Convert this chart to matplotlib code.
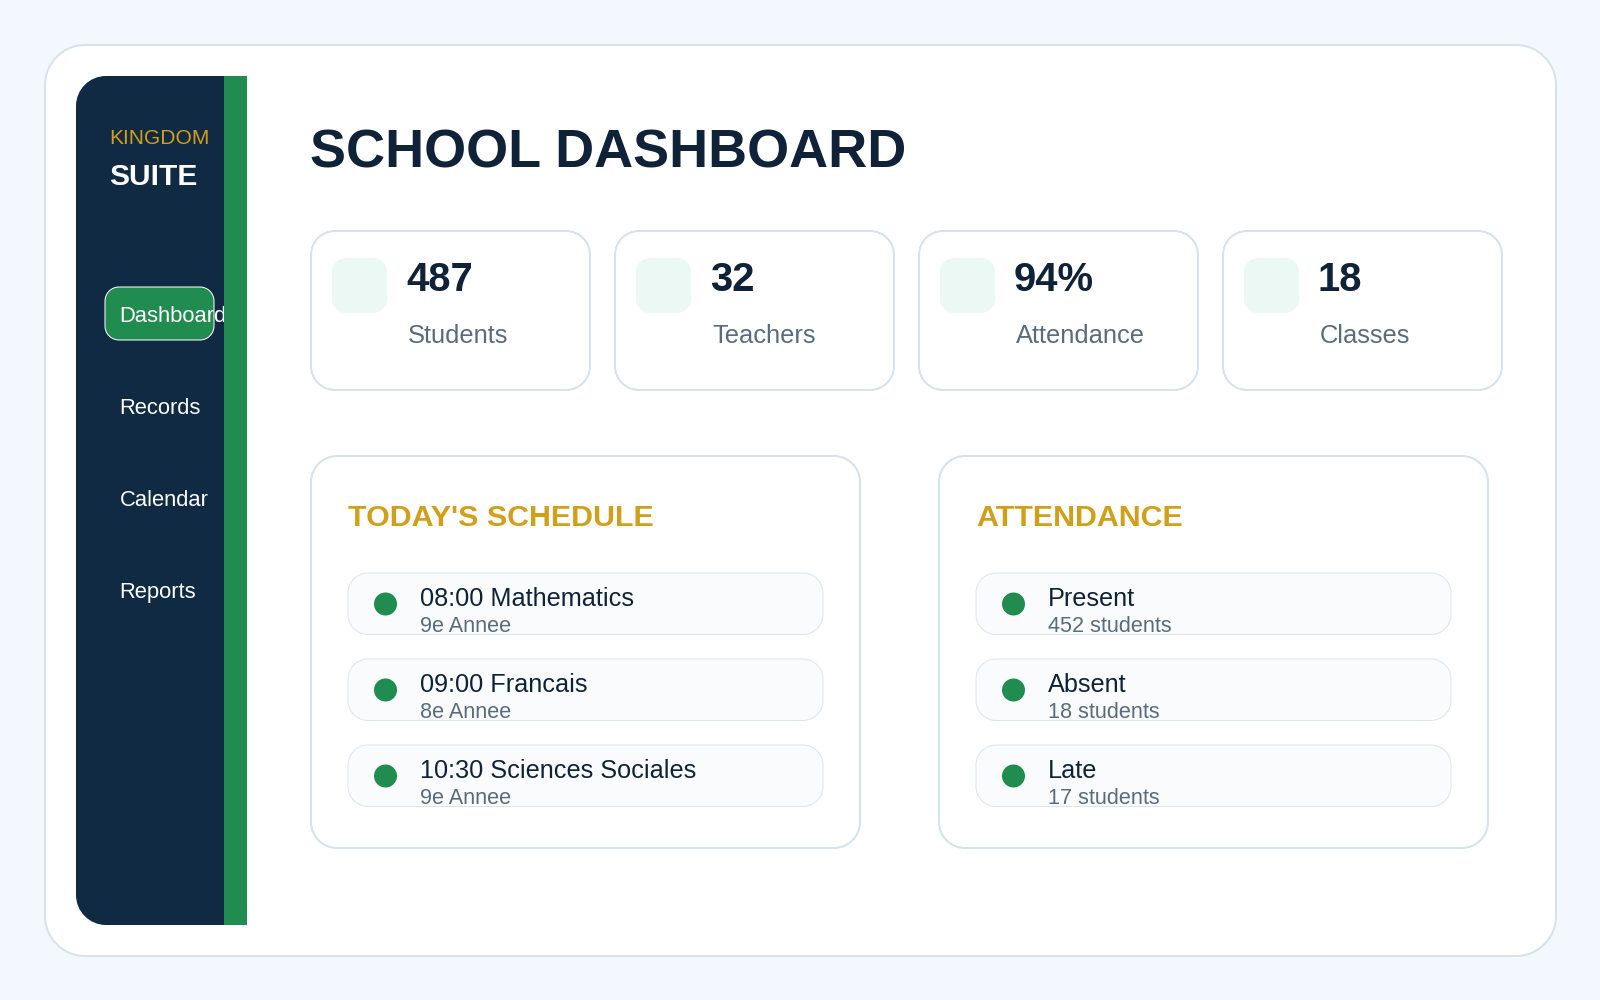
import matplotlib
matplotlib.use("Agg")
import matplotlib.pyplot as plt
from matplotlib.patches import PathPatch, Rectangle, Circle
from matplotlib.path import Path

plt.rcParams['font.family'] = ['Liberation Sans', 'DejaVu Sans']

# ---- content ----
nav_items = ["Dashboard", "Records", "Calendar", "Reports"]
stat_values = ["487", "32", "94%", "18"]
stat_labels = ["Students", "Teachers", "Attendance", "Classes"]
schedule_titles = ["08:00 Mathematics", "09:00 Francais", "10:30 Sciences Sociales"]
schedule_subs = ["9e Annee", "8e Annee", "9e Annee"]
attendance_titles = ["Present", "Absent", "Late"]
attendance_subs = ["452 students", "18 students", "17 students"]

NAVY = "#102a43"; INK = "#0f2238"; GREEN = "#218c4f"; GOLD = "#d19f1a"; GRAY = "#5b6b7e"
BORDER = "#d6e2ec"; BG = "#f3f8fe"; ICON = "#ecf8f3"; ROW = "#f9fbfd"; ROWB = "#dde6ed"

fig = plt.figure(figsize=(16, 10), dpi=100, facecolor=BG)
ax = fig.add_axes([0, 0, 1, 1])
ax.set_xlim(0, 1600); ax.set_ylim(1000, 0); ax.axis("off")

def px(s):
    return s * 0.72

def rbox(x0, y0, x1, y1, r, fc, ec="none", lw=2, z=1):
    k = r * (1 - 0.5523)
    M, L, C, Z = Path.MOVETO, Path.LINETO, Path.CURVE4, Path.CLOSEPOLY
    verts = [(x0 + r, y0), (x1 - r, y0), (x1 - k, y0), (x1, y0 + k), (x1, y0 + r),
             (x1, y1 - r), (x1, y1 - k), (x1 - k, y1), (x1 - r, y1),
             (x0 + r, y1), (x0 + k, y1), (x0, y1 - k), (x0, y1 - r),
             (x0, y0 + r), (x0, y0 + k), (x0 + k, y0), (x0 + r, y0), (x0 + r, y0)]
    codes = [M, L, C, C, C, L, C, C, C, L, C, C, C, L, C, C, C, Z]
    p = PathPatch(Path(verts, codes), fc=fc, ec=ec, lw=lw * 0.72, zorder=z)
    ax.add_patch(p)
    return p

def txt(x, y, s, size, color, weight="normal", z=5):
    return ax.text(x, y, s, fontsize=px(size), color=color, fontweight=weight,
                   va="baseline", ha="left", zorder=z)

# outer card
rbox(45, 45, 1556, 956, 40, "white", BORDER, 2)

# sidebar
rbox(76, 76, 224, 925, 30, NAVY, z=2)
ax.add_patch(Rectangle((130, 76), 94, 849, fc=NAVY, ec="none", zorder=2))
ax.add_patch(Rectangle((224, 76), 23, 849, fc=GREEN, ec="none", zorder=6))
txt(109, 144, "KINGDOM", 21, GOLD)
txt(109, 185, "SUITE", 30, "white", "bold")
rbox(105, 287, 214, 340, 14, GREEN, "white", 1, z=3)
nav_base = [322, 414, 506, 598]
for s, y in zip(nav_items, nav_base):
    txt(119.5, y, s, 22, "white")

# title
txt(310, 168, "SCHOOL DASHBOARD", 54, INK, "bold")

# stat cards
for i, (v, l) in enumerate(zip(stat_values, stat_labels)):
    x = 311 + 304 * i
    rbox(x, 231, x + 279, 390, 24, "white", BORDER, 2)
    rbox(x + 21, 258, x + 76, 313, 14, ICON)
    txt(x + 95, 291, v, 40, INK, "bold")
    txt(x + 97, 343, l, 25.5, GRAY)

# panels
def panel(x0, title, titles, subs):
    rbox(x0, 456, x0 + 549, 848, 26, "white", BORDER, 2)
    txt(x0 + 37, 526, title, 30.4, GOLD, "bold")
    for i, (a, b) in enumerate(zip(titles, subs)):
        y = 573 + 86 * i
        rbox(x0 + 37, y, x0 + 512, y + 61.5, 20, ROW, ROWB, 1)
        ax.add_patch(Circle((x0 + 74.5, y + 31), 11.5, fc=GREEN, ec="none", zorder=4))
        txt(x0 + 109, y + 33, a, 25.3, INK)
        txt(x0 + 109, y + 59, b, 21.7, GRAY)

panel(311, "TODAY'S SCHEDULE", schedule_titles, schedule_subs)
panel(939, "ATTENDANCE", attendance_titles, attendance_subs)

fig.savefig("out.png", dpi=100, facecolor=BG)
